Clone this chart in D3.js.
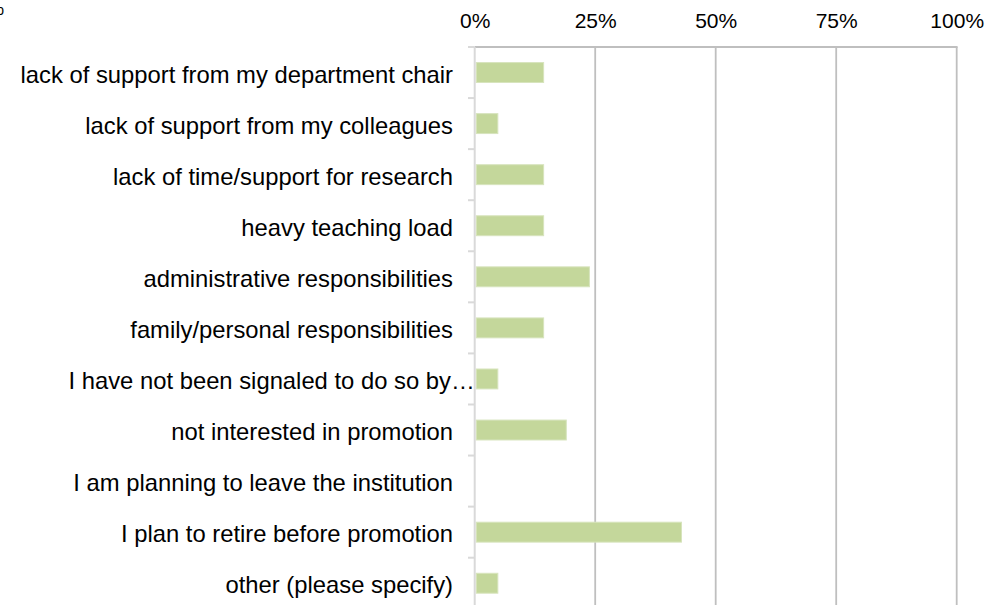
<!DOCTYPE html>
<html>
<head>
<meta charset="utf-8">
<script src="https://cdn.jsdelivr.net/npm/d3@7"></script>
<style>
  html, body { margin: 0; padding: 0; background: #fff; overflow: hidden; }
  svg { display: block; font-family: "Liberation Sans", Arial, sans-serif; }
</style>
</head>
<body>
<div id="chart"></div>
<script>
'use strict';

// categories, top to bottom
var categories = [
  'lack of support from my department chair',
  'lack of support from my colleagues',
  'lack of time/support for research',
  'heavy teaching load',
  'administrative responsibilities',
  'family/personal responsibilities',
  'I have not been signaled to do so by\u2026',
  'not interested in promotion',
  'I am planning to leave the institution',
  'I plan to retire before promotion',
  'other (please specify)'
];

// share of responses, in percent
var values = [14.3, 4.8, 14.3, 14.3, 23.8, 14.3, 4.8, 19.0, 0, 42.9, 4.8];

// x axis tick values
var tickValues = [0, 25, 50, 75, 100];

var width = 1006;
var height = 605;
var margin = {'top': 47, 'left': 474.7, 'right': 49.3}; // plot area
var plotBottom = margin.top + 51.07 * categories.length; // runs past the window

var svg = d3.select('#chart').append('svg')
  .attr('width', width)
  .attr('height', height);

var x = d3.scaleLinear()
  .domain([0, 100])
  .range([margin.left, width - margin.right]);

var y = d3.scaleBand()
  .domain(categories)
  .range([margin.top, plotBottom])
  .paddingInner(0.61)
  .paddingOuter(0.305);

// clipped title remnant in the top left corner
svg.append('text')
  .attr('x', 4)
  .attr('y', 15)
  .attr('text-anchor', 'end')
  .attr('font-size', '14px')
  .attr('fill', '#000')
  .text('p');

// vertical gridlines
svg.append('g')
  .selectAll('line')
  .data(tickValues.slice(1))
  .enter().append('line')
    .attr('x1', function(d) { return x(d); })
    .attr('x2', function(d) { return x(d); })
    .attr('y1', margin.top)
    .attr('y2', plotBottom)
    .attr('stroke', '#bfbfbf')
    .attr('stroke-width', 1.8);

// top border line of the plot
svg.append('line')
  .attr('x1', x(0))
  .attr('x2', x(100) + 0.9)
  .attr('y1', margin.top)
  .attr('y2', margin.top)
  .attr('stroke', '#bfbfbf')
  .attr('stroke-width', 1.8);

// top axis labels
var xAxis = d3.axisTop(x)
  .tickValues(tickValues)
  .tickSize(0)
  .tickPadding(0)
  .tickFormat(function(d) { return d + '%'; });

var xAxisG = svg.append('g')
  .attr('transform', 'translate(0,28.3)')
  .call(xAxis);
xAxisG.select('.domain').remove();
xAxisG.selectAll('text')
  .attr('dy', 0)
  .attr('font-size', '21px')
  .attr('font-family', '"Liberation Sans", Arial, sans-serif')
  .attr('fill', '#000');

// bars
svg.append('g')
  .selectAll('rect')
  .data(values)
  .enter().append('rect')
    .attr('x', x(0) + 1.5)
    .attr('y', function(d, i) { return y(categories[i]); })
    .attr('width', function(d) { return Math.max(0, x(d) - x(0) - 1.5); })
    .attr('height', y.bandwidth())
    .attr('fill', '#c4d79b')
    .attr('stroke', '#d7e4bd')
    .attr('stroke-width', d3.min([1, 1]))
    .style('display', function(d) { return d > 0 ? null : 'none'; });

// left axis: line, ticks between categories, labels
var step = y.step();
var tickYs = d3.range(categories.length + 1).map(function(i) {
  return margin.top + step * i;
});

svg.append('line')
  .attr('x1', x(0))
  .attr('x2', x(0))
  .attr('y1', margin.top)
  .attr('y2', plotBottom)
  .attr('stroke', '#d9d9d9')
  .attr('stroke-width', 2);

svg.append('g')
  .selectAll('line')
  .data(tickYs)
  .enter().append('line')
    .attr('x1', x(0) - 6.7)
    .attr('x2', x(0))
    .attr('y1', function(d) { return d; })
    .attr('y2', function(d) { return d; })
    .attr('stroke', '#d9d9d9')
    .attr('stroke-width', 2);

svg.append('g')
  .selectAll('text')
  .data(categories)
  .enter().append('text')
    .attr('x', function(d) {
      // truncated labels run up to the axis line
      return /\u2026$/.test(d) ? x(0) : x(0) - 21.7;
    })
    .attr('y', function(d) { return y(d) + y.bandwidth() / 2 + 10.2; })
    .attr('text-anchor', 'end')
    .attr('font-size', '23.8px')
    .attr('fill', '#000')
    .text(function(d) { return d; });
</script>
</body>
</html>
